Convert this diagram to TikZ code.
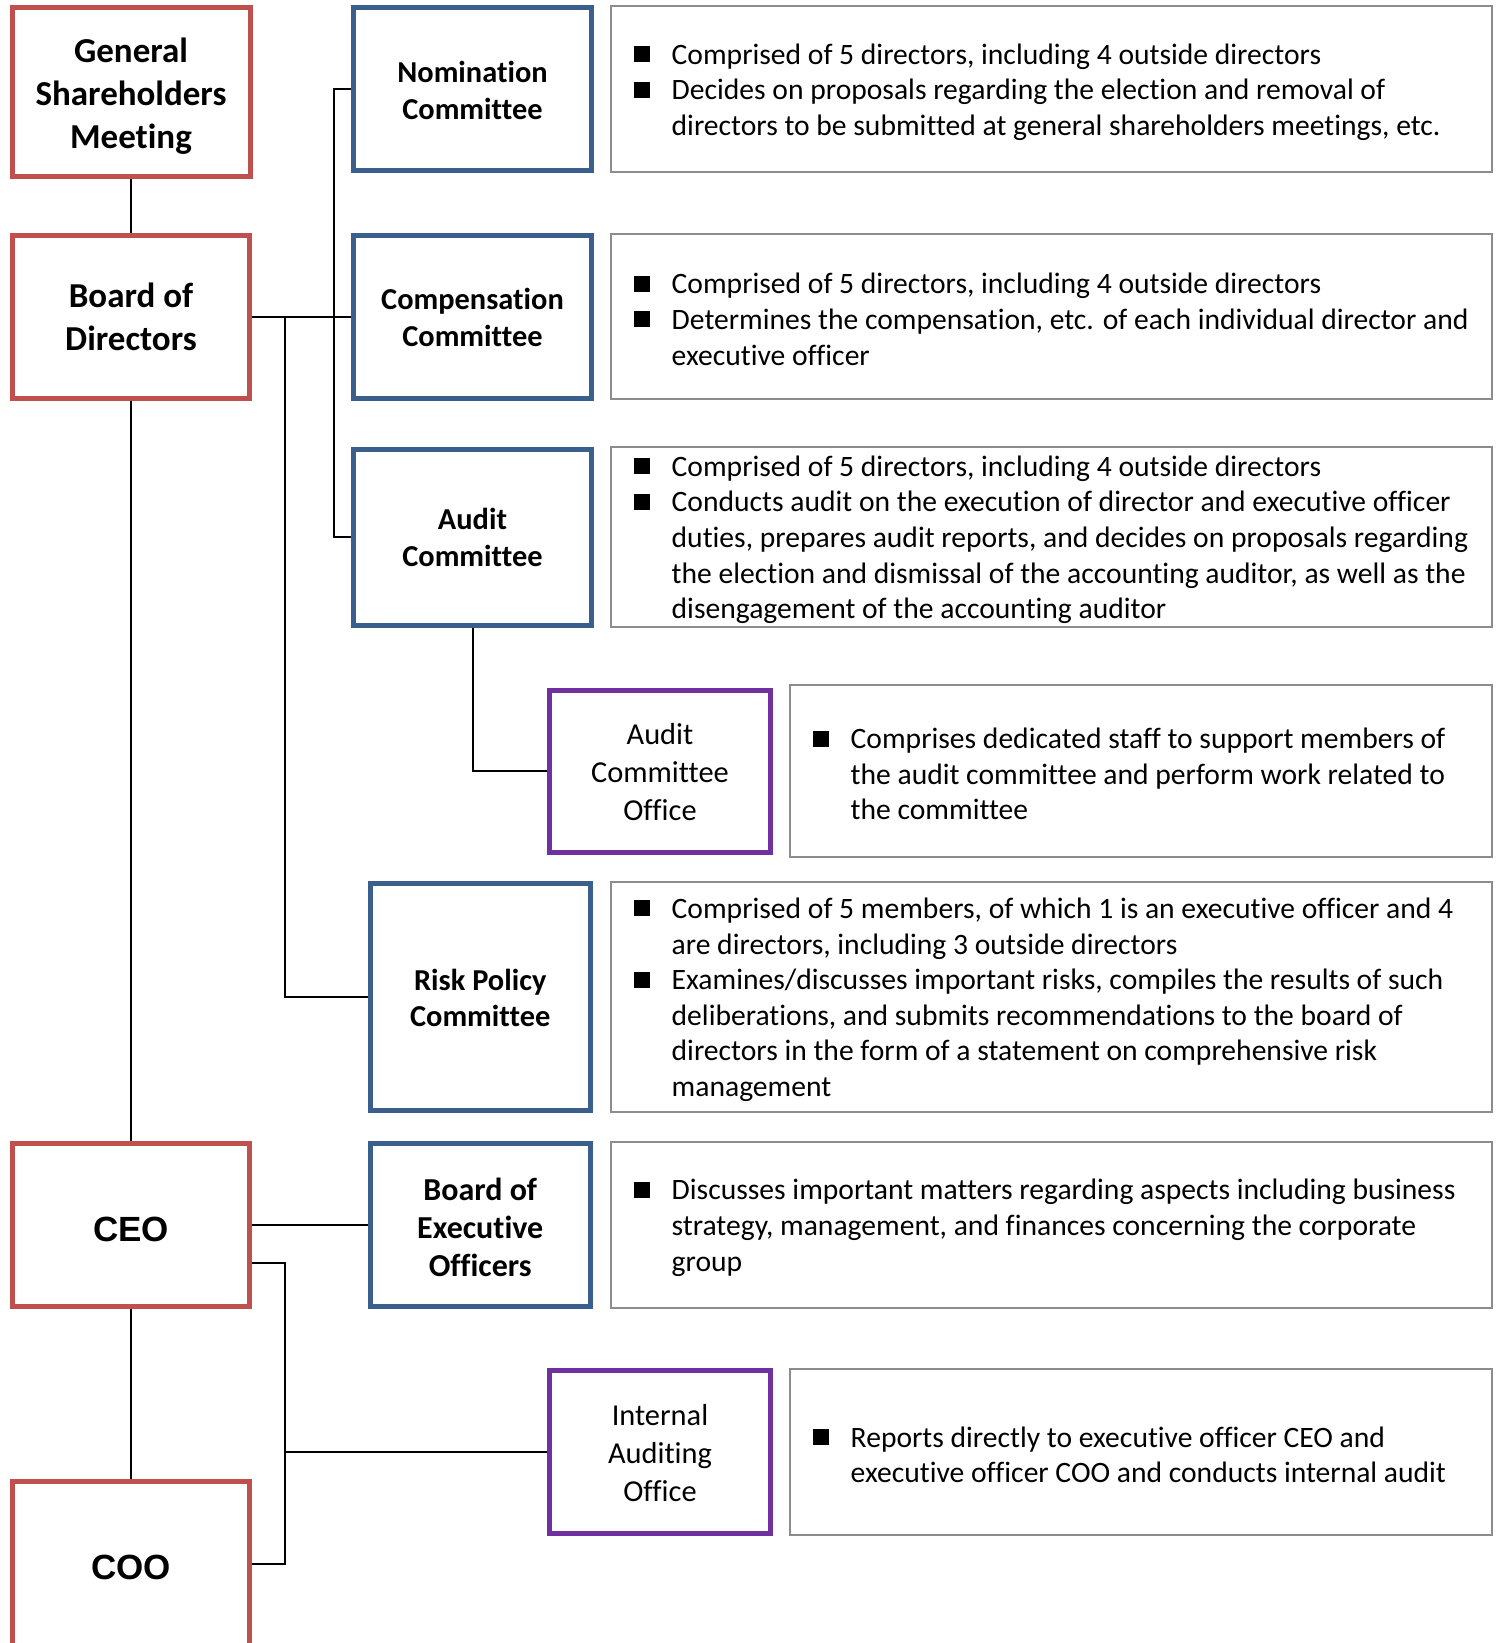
\documentclass[tikz,border=0pt]{standalone}
\usepackage{fontspec}
\setmainfont{Carlito}[Ligatures=NoCommon]
\newfontfamily\arialfont{Liberation Sans}
\definecolor{cred}{HTML}{C0504D}
\definecolor{cblue}{HTML}{3A5F8D}
\definecolor{cpurple}{HTML}{7030A0}
\definecolor{cgray}{HTML}{8C8C8C}
\newcommand{\bx}{\makebox[38pt][l]{\rule[2pt]{16pt}{16pt}}}
\newcommand{\ix}{\hspace*{38pt}}
\begin{document}
\begin{tikzpicture}[x=1pt,y=-1pt,
  redbox/.style={draw=cred, line width=5pt, inner sep=0pt},
  bluebox/.style={draw=cblue, line width=5pt, inner sep=0pt},
  purplebox/.style={draw=cpurple, line width=5pt, inner sep=0pt},
  graybox/.style={draw=cgray, line width=2pt, inner sep=0pt},
  bigbold/.style={align=center, inner sep=0pt, font=\fontsize{35}{43}\selectfont\bfseries},
  arialbold/.style={align=center, inner sep=0pt, font=\fontsize{35}{43}\selectfont\arialfont\bfseries},
  combold/.style={align=center, inner sep=0pt, font=\fontsize{30.4}{36.7}\selectfont\bfseries},
  officetext/.style={align=center, inner sep=0pt, font=\fontsize{30.4}{37.7}\selectfont},
  desc/.style={anchor=west, align=left, inner sep=0pt,
    font=\fontsize{29.6}{35.6}\selectfont},
  conn/.style={line width=2pt, draw=black}]
\useasboundingbox[fill=white] (0,0) rectangle (1496,1643);

% left column boxes
\node[redbox, minimum width=238, minimum height=168] (gsm) at (131,92) {};
\node[redbox, minimum width=237, minimum height=163] (bod) at (131,316.5) {};
\node[redbox, minimum width=237, minimum height=163] (ceo) at (131,1224.5) {};
\node[redbox, minimum width=237, minimum height=166] (coo) at (131,1564) {};

% committee and office boxes
\node[bluebox, minimum width=238, minimum height=162] (nom) at (472.5,89) {};
\node[bluebox, minimum width=238, minimum height=163] (comp) at (472.5,316.5) {};
\node[bluebox, minimum width=238, minimum height=176] (aud) at (472.5,537) {};
\node[purplebox, minimum width=221, minimum height=162] (aco) at (660,771) {};
\node[bluebox, minimum width=220.5, minimum height=226.5] (risk) at (480.25,997) {};
\node[bluebox, minimum width=220.5, minimum height=163] (beo) at (480.25,1224.5) {};
\node[purplebox, minimum width=221, minimum height=163] (iao) at (660,1451.5) {};

% labels
\node[bigbold] (gsm-l) at ([yshift=-4]gsm.center) {General\\Shareholders\\Meeting};
\node[bigbold] (bod-l) at (bod.center) {Board of\\Directors};
\node[arialbold] (ceo-l) at ([yshift=-5]ceo.center) {CEO};
\node[arialbold] (coo-l) at ([yshift=-3]coo.center) {COO};
\node[combold] (nom-l) at ([yshift=-1.5]nom.center) {Nomination\\Committee};
\node[combold] (comp-l) at ([yshift=-1]comp.center) {Compensation\\Committee};
\node[combold] (aud-l) at ([yshift=-0.5]aud.center) {Audit\\Committee};
\node[officetext] (aco-l) at ([yshift=-1]aco.center) {Audit\\Committee\\Office};
\node[combold] (risk-l) at ([yshift=-1]risk.center) {Risk Policy\\Committee};
\node[combold, font=\fontsize{32}{38}\selectfont\bfseries] (beo-l) at ([yshift=-2.5]beo.center) {Board of\\Executive\\Officers};
\node[officetext] (iao-l) at ([yshift=-1.5]iao.center) {Internal\\Auditing\\Office};

% description boxes
\node[graybox, minimum width=881, minimum height=166] (nomd) at (1051.5,89) {};
\node[graybox, minimum width=881, minimum height=165.5] (compd) at (1051.5,316.25) {};
\node[graybox, minimum width=881, minimum height=179.5] (audd) at (1051.5,536.75) {};
\node[graybox, minimum width=702, minimum height=172] (acod) at (1141,771) {};
\node[graybox, minimum width=881, minimum height=229.5] (riskd) at (1051.5,996.75) {};
\node[graybox, minimum width=881, minimum height=165.5] (beod) at (1051.5,1224.75) {};
\node[graybox, minimum width=702, minimum height=166] (iaod) at (1141,1452) {};

\node[desc] (nomt) at ([xshift=23.5,yshift=-3]nomd.west) {\bx Comprised of 5 directors, including 4 outside directors\\
\bx Decides on proposals regarding the election and removal of\\
\ix directors to be submitted at general shareholders meetings, etc.};
\node[desc] (compt) at ([xshift=23.5,yshift=-3]compd.west) {\bx Comprised of 5 directors, including 4 outside directors\\
\bx Determines the compensation, etc. of each individual director and\\
\ix executive officer};
\node[desc] (audt) at ([xshift=23.5,yshift=-3]audd.west) {\bx Comprised of 5 directors, including 4 outside directors\\
\bx Conducts audit on the execution of director and executive officer\\
\ix duties, prepares audit reports, and decides on proposals regarding\\
\ix the election and dismissal of the accounting auditor, as well as the\\
\ix disengagement of the accounting auditor};
\node[desc] (acot) at ([xshift=23.5,yshift=-3]acod.west) {\bx Comprises dedicated staff to support members of\\
\ix the audit committee and perform work related to\\
\ix the committee};
\node[desc] (riskt) at ([xshift=23.5,yshift=-3]riskd.west) {\bx Comprised of 5 members, of which 1 is an executive officer and 4\\
\ix are directors, including 3 outside directors\\
\bx Examines/discusses important risks, compiles the results of such\\
\ix deliberations, and submits recommendations to the board of\\
\ix directors in the form of a statement on comprehensive risk\\
\ix management};
\node[desc] (beot) at ([xshift=23.5,yshift=-3]beod.west) {\bx Discusses important matters regarding aspects including business\\
\ix strategy, management, and finances concerning the corporate\\
\ix group};
\node[desc] (iaot) at ([xshift=23.5,yshift=-3]iaod.west) {\bx Reports directly to executive officer CEO and\\
\ix executive officer COO and conducts internal audit};

% connectors
\draw[conn] (gsm.south) -- (bod.north);
\draw[conn] (bod.south) -- (ceo.north);
\draw[conn] (ceo.south) -- (coo.north);
\draw[conn] (bod.east) -- (comp.west);
\draw[conn] (nom.west) -- ++(-17,0) |- (aud.west);
\path (bod.east) ++(32.5,0) coordinate (j1);
\draw[conn] (j1) |- (risk.west);
\draw[conn] (aud.south) |- (aco.west);
\draw[conn] (ceo.east) -- (beo.west);
\draw[conn] ([yshift=-38.5]ceo.east) -- ++(32.5,0) coordinate (j2) |- (coo.east);
\draw[conn] (iao.west) -- (iao.west -| j2);
\end{tikzpicture}
\end{document}
